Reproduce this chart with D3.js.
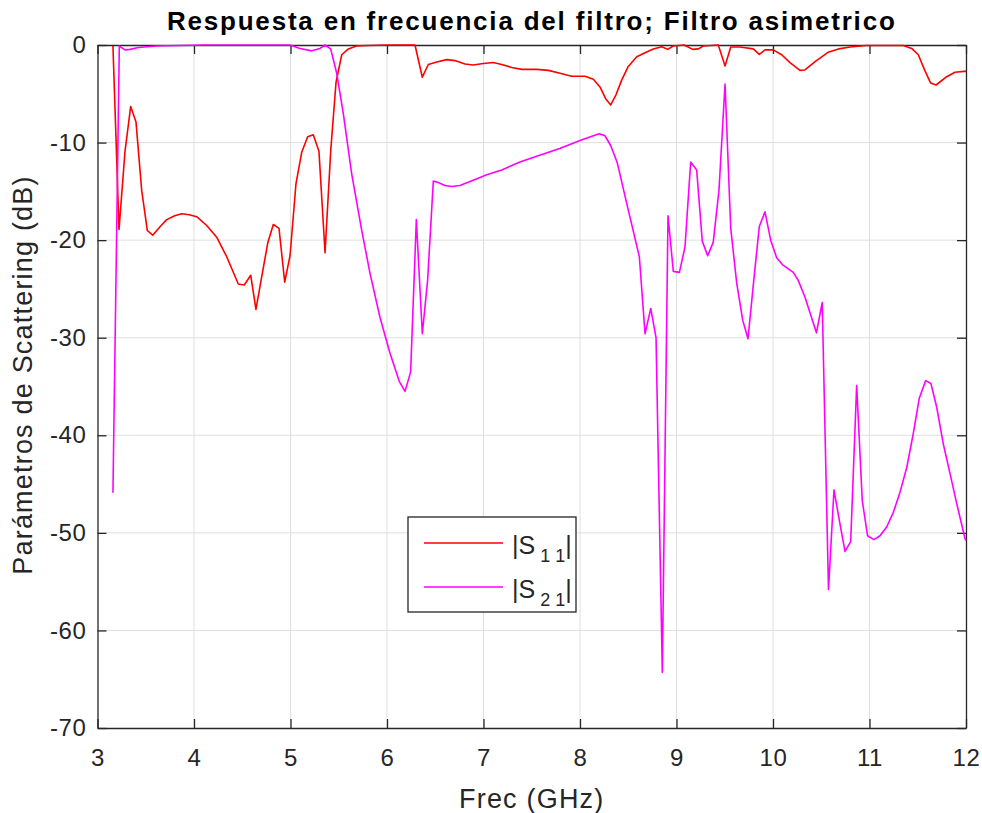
<!DOCTYPE html>
<html>
<head>
<meta charset="utf-8">
<script src="https://cdn.jsdelivr.net/npm/d3@7"></script>
<style>
	body { margin: 0; background: #fff; }
	text { font-family: "Liberation Sans", Arial, Helvetica, sans-serif; fill: #262626; }
	.grid line { stroke: #dfdfdf; stroke-width: 1; }
	.title { font-weight: bold; fill: #000; }
</style>
</head>
<body>
<svg class="chart"></svg>
<script>
/* Respuesta en frecuencia del filtro - S11 y S21 */

// Data
var freqS11 = [3.16, 3.223, 3.285, 3.344, 3.399, 3.458, 3.516, 3.572, 3.65, 3.717, 3.80, 3.872, 3.95, 4.028, 4.132,
	4.235, 4.339, 4.459, 4.521, 4.588, 4.642, 4.701, 4.764, 4.822, 4.881, 4.940, 4.995, 5.057, 5.116, 5.178,
	5.236, 5.295, 5.358, 5.417, 5.472, 5.531, 5.60, 5.686, 5.80, 6.0, 6.29, 6.366, 6.428, 6.515, 6.619,
	6.705, 6.808, 6.894, 6.998, 7.10, 7.189, 7.292, 7.396, 7.551, 7.672, 7.793, 7.914, 8.052, 8.138, 8.207,
	8.266, 8.318, 8.373, 8.432, 8.50, 8.588, 8.674, 8.76, 8.847, 8.909, 8.967, 9.08, 9.168, 9.226, 9.278,
	9.433, 9.503, 9.562, 9.658, 9.796, 9.858, 9.917, 10.003, 10.09, 10.176, 10.28, 10.33, 10.45, 10.57, 10.68,
	10.80, 10.97, 11.35, 11.437, 11.506, 11.568, 11.634, 11.69, 11.80, 11.886, 11.98, 12.0];
var s11 = [-0.1, -18.9, -10.9, -6.3, -7.9, -14.9, -19.0, -19.5, -18.6, -17.9, -17.5, -17.3, -17.4, -17.6, -18.5,
	-19.7, -21.7, -24.5, -24.6, -23.6, -27.1, -23.8, -20.3, -18.4, -18.8, -24.3, -21.6, -14.2, -11.0, -9.4,
	-9.2, -10.9, -21.3, -10.8, -3.8, -1.0, -0.4, -0.1, -0.05, 0, 0, -3.3, -2.0, -1.75, -1.5,
	-1.6, -1.95, -2.05, -1.9, -1.8, -2.0, -2.3, -2.5, -2.5, -2.6, -2.9, -3.2, -3.2, -3.5, -4.3,
	-5.5, -6.15, -5.1, -3.6, -2.2, -1.2, -0.8, -0.4, -0.17, -0.45, -0.1, 0, -0.45, -0.4, -0.1,
	0, -2.15, -0.2, -0.2, -0.4, -0.96, -0.5, -0.5, -1.0, -1.8, -2.6, -2.56, -1.6, -0.75, -0.4,
	-0.2, -0.05, -0.05, -0.35, -1.0, -2.5, -3.9, -4.1, -3.25, -2.8, -2.7, -2.7];

var freqS21 = [3.16, 3.226, 3.285, 3.337, 3.423, 3.61, 4.1, 4.5, 4.995, 5.098, 5.22, 5.306, 5.358, 5.416, 5.479,
	5.547, 5.634, 5.738, 5.824, 5.927, 6.031, 6.128, 6.187, 6.245, 6.304, 6.366, 6.421, 6.48, 6.532, 6.60,
	6.67, 6.756, 6.894, 7.033, 7.189, 7.378, 7.551, 7.79, 8.0, 8.138, 8.20, 8.259, 8.318, 8.387, 8.50,
	8.615, 8.674, 8.733, 8.788, 8.853, 8.912, 8.967, 9.03, 9.088, 9.147, 9.209, 9.267, 9.323, 9.381, 9.44,
	9.503, 9.562, 9.624, 9.686, 9.741, 9.803, 9.858, 9.917, 9.976, 10.038, 10.097, 10.21, 10.26, 10.33, 10.45,
	10.51, 10.575, 10.632, 10.687, 10.746, 10.805, 10.867, 10.925, 10.98, 11.046, 11.109, 11.178, 11.247, 11.317, 11.386,
	11.454, 11.516, 11.582, 11.637, 11.696, 11.765, 11.834, 11.904, 11.99, 12.0];
var s21 = [-45.9, -0.1, -0.5, -0.45, -0.25, -0.1, 0, 0, 0, -0.35, -0.6, -0.35, 0, -0.4, -2.9,
	-7.0, -13.2, -19.0, -23.4, -27.9, -31.6, -34.5, -35.5, -33.5, -17.9, -29.6, -24.1, -13.95, -14.1, -14.4,
	-14.5, -14.4, -13.85, -13.3, -12.8, -12.0, -11.4, -10.6, -9.8, -9.3, -9.1, -9.3, -10.3, -12.1, -16.9,
	-21.7, -29.6, -27.0, -30.0, -64.3, -17.5, -23.2, -23.3, -20.7, -12.0, -12.8, -20.1, -21.6, -20.2, -14.9,
	-4.0, -18.8, -24.4, -28.2, -30.1, -23.9, -18.6, -17.1, -20.0, -21.8, -22.5, -23.3, -24.1, -25.8, -29.5,
	-26.4, -55.8, -45.6, -48.7, -51.9, -50.9, -34.9, -46.7, -50.3, -50.7, -50.3, -49.4, -47.9, -45.8, -43.3,
	-39.8, -36.2, -34.4, -34.7, -37.1, -40.9, -43.9, -47.0, -50.6, -50.8];

var xTicks = [3, 4, 5, 6, 7, 8, 9, 10, 11, 12];
var yTicks = [0, -10, -20, -30, -40, -50, -60, -70];

var titleText = "Respuesta en frecuencia del filtro; Filtro asimetrico";
var xLabel = "Frec (GHz)";
var yLabel = "Parámetros de Scattering (dB)";

// Draw the whole figure
function drawChart() {
	var svgW = 982, svgH = 813;
	var margin = {top: 45, right: 16, bottom: 85, left: 97.5},
		width = svgW - margin.left - margin.right,
		height = svgH - margin.top - margin.bottom;

	var x = d3.scaleLinear()
		.domain([3, 12])
		.range([0, width]);

	var y = d3.scaleLinear()
		.domain([-70, 0])
		.range([height, 0]);

	var svg = d3.select(".chart")
		.attr("width", svgW)
		.attr("height", svgH);

	var chart = svg.append("g")
		.attr("transform", "translate(" + margin.left + "," + margin.top + ")");

	chart.append("defs").append("clipPath")
		.attr("id", "plotclip")
	  .append("rect")
		.attr("x", -1).attr("y", -2)
		.attr("width", width + 2).attr("height", height + 4);

	// grid
	var grid = chart.append("g").attr("class", "grid");
	grid.selectAll(".gx")
		.data(xTicks.slice(1, -1))
	  .enter().append("line")
		.attr("x1", function(d) { return x(d); })
		.attr("x2", function(d) { return x(d); })
		.attr("y1", 0).attr("y2", height);
	grid.selectAll(".gy")
		.data(yTicks.slice(1, -1))
	  .enter().append("line")
		.attr("y1", function(d) { return y(d); })
		.attr("y2", function(d) { return y(d); })
		.attr("x1", 0).attr("x2", width);

	// axes (ticks point inwards, box on all four sides)
	var tickLen = 9;
	var plain = function(d) { return String(d); };
	var xAxis = d3.axisBottom(x).tickValues(xTicks).tickSizeInner(-tickLen).tickSizeOuter(0).tickPadding(26).tickFormat(plain);
	var yAxis = d3.axisLeft(y).tickValues(yTicks).tickSizeInner(-tickLen).tickSizeOuter(0).tickPadding(11).tickFormat(plain);
	var xTop = d3.axisTop(x).tickValues(xTicks).tickSizeInner(-tickLen).tickSizeOuter(0).tickFormat("");
	var yRight = d3.axisRight(y).tickValues(yTicks).tickSizeInner(-tickLen).tickSizeOuter(0).tickFormat("");

	var gx = chart.append("g")
		.attr("transform", "translate(0," + height + ")")
		.call(xAxis);
	var gy = chart.append("g").call(yAxis);
	var gt = chart.append("g").call(xTop);
	var gr = chart.append("g")
		.attr("transform", "translate(" + width + ",0)")
		.call(yRight);

	[gx, gy, gt, gr].forEach(function(g) {
		g.select(".domain").attr("stroke", "#262626").attr("stroke-width", 1.3);
		g.selectAll(".tick line").attr("stroke", "#262626").attr("stroke-width", 1.3);
		g.selectAll("text")
			.style("font-family", "'Liberation Sans', Arial, sans-serif")
			.style("font-size", "24px")
			.style("letter-spacing", "0.6px")
			.attr("fill", "#262626");
	});
	gx.selectAll(".tick text").attr("dy", "0.5em");

	// data lines
	var line = d3.line()
		.x(function(d) { return x(d[0]); })
		.y(function(d) { return y(d[1]); });

	var lines = chart.append("g").attr("clip-path", "url(#plotclip)");
	lines.append("path")
		.datum(d3.zip(freqS11, s11))
		.attr("fill", "none")
		.attr("stroke", "#ff0000")
		.attr("stroke-width", 1.6)
		.attr("stroke-linejoin", "round")
		.attr("d", line);
	lines.append("path")
		.datum(d3.zip(freqS21, s21))
		.attr("fill", "none")
		.attr("stroke", "#ff00ff")
		.attr("stroke-width", 1.6)
		.attr("stroke-linejoin", "round")
		.attr("d", line);

	// title and labels
	svg.append("text")
		.attr("class", "title")
		.attr("x", margin.left + width / 2)
		.attr("y", 30)
		.attr("text-anchor", "middle")
		.style("font-size", "26px")
		.style("letter-spacing", "1.8px")
		.text(titleText);

	svg.append("text")
		.attr("x", margin.left + width / 2)
		.attr("y", 808)
		.attr("text-anchor", "middle")
		.style("font-size", "27px")
		.style("letter-spacing", "1.2px")
		.text(xLabel);

	svg.append("text")
		.attr("transform", "translate(32," + 375 + ") rotate(-90)")
		.attr("text-anchor", "middle")
		.style("font-size", "27px")
		.style("letter-spacing", "1.2px")
		.text(yLabel);

	// legend
	var leg = svg.append("g").attr("transform", "translate(408,517)");
	leg.append("rect")
		.attr("width", 168).attr("height", 95)
		.attr("fill", "#fff")
		.attr("stroke", "#262626")
		.attr("stroke-width", 1.3);
	var items = [{sub: "11", color: "#ff0000", y: 26}, {sub: "21", color: "#ff00ff", y: 70}];
	items.forEach(function(it) {
		leg.append("line")
			.attr("x1", 16).attr("x2", 95)
			.attr("y1", it.y).attr("y2", it.y)
			.attr("stroke", it.color)
			.attr("stroke-width", 1.6);
		var t = leg.append("text")
			.attr("x", 104)
			.attr("y", it.y + 11)
			.style("font-size", "25px")
			.attr("fill", "#000");
		t.append("tspan").text("|S");
		t.append("tspan").attr("dy", 8).style("font-size", "18px").text(" " + it.sub.split("").join(" "));
		t.append("tspan").attr("dy", -8).text("|");
	});
}

drawChart();
</script>
</body>
</html>
